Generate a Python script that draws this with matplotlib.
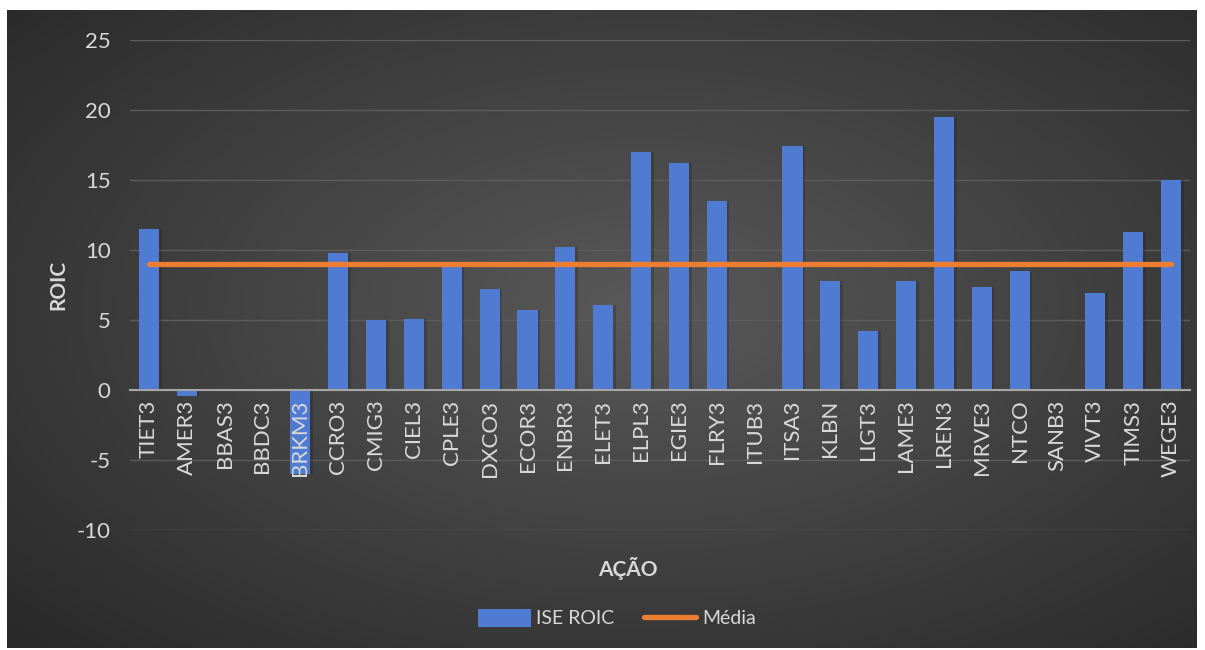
import numpy as np
import matplotlib
matplotlib.use("Agg")
import matplotlib.pyplot as plt
from matplotlib.patches import Patch
from matplotlib.lines import Line2D

plt.rcParams['font.family'] = ['Lato', 'DejaVu Sans']
plt.rcParams['axes.unicode_minus'] = False

acoes = ['TIET3', 'AMER3', 'BBAS3', 'BBDC3', 'BRKM3', 'CCRO3', 'CMIG3', 'CIEL3',
         'CPLE3', 'DXCO3', 'ECOR3', 'ENBR3', 'ELET3', 'ELPL3', 'EGIE3', 'FLRY3',
         'ITUB3', 'ITSA3', 'KLBN', 'LIGT3', 'LAME3', 'LREN3', 'MRVE3', 'NTCO',
         'SANB3', 'VIVT3', 'TIMS3', 'WEGE3']
roic = [11.5, -0.4, 0, 0, -6.0, 9.8, 5.0, 5.1,
        8.9, 7.2, 5.7, 10.2, 6.1, 17.0, 16.2, 13.5,
        0, 17.4, 7.8, 4.2, 7.8, 19.5, 7.35, 8.5,
        0, 6.9, 11.3, 15.0]
media = [9.0] * len(acoes)

TXT = '#d9d9d9'
AZUL = '#4f7bd2'
LARANJA = '#ed7d31'

fig = plt.figure(figsize=(12.05, 6.5), dpi=100)
fig.patch.set_facecolor('white')

# fundo escuro com gradiente radial
bg = fig.add_axes([7 / 1205, 2 / 650, 1190 / 1205, 638 / 650], zorder=-10)
yy, xx = np.mgrid[0:320, 0:600]
cx, cy = 320, 150
r = np.sqrt(((xx - cx) / 600) ** 2 + ((yy - cy) / 330) ** 2)
v = np.clip(0.35 - 0.26 * r, 0.15, 0.36)
bg.imshow(np.dstack([v, v, v]), aspect='auto', extent=[0, 1, 0, 1], interpolation='bilinear')
bg.set_axis_off()

ax = fig.add_axes([130 / 1205, 120 / 650, 1060 / 1205, 490 / 650])
ax.patch.set_alpha(0)

x = np.arange(len(acoes))
ax.bar(x + 0.07, roic, width=0.53, color='#1a1a1a', alpha=0.25, zorder=2)
ax.bar(x, roic, width=0.53, color=AZUL, zorder=3)
ax.plot(x, media, color=LARANJA, lw=3.8, solid_capstyle='round', zorder=4)

ax.set_xlim(-0.5, len(acoes) - 0.5)
ax.set_ylim(-10, 25)
ax.set_yticks(np.arange(-10, 26, 5))
ax.grid(axis='y', color='#5c5c5c', lw=1)
ax.set_axisbelow(True)
ax.xaxis.set_zorder(6)

for s in ['top', 'right', 'left']:
    ax.spines[s].set_visible(False)
ax.spines['bottom'].set_position(('data', 0))
ax.spines['bottom'].set_color('#a6a6a6')
ax.spines['bottom'].set_linewidth(1.5)
ax.spines['bottom'].set_zorder(5)

ax.set_xticks(x)
ax.set_xticklabels(acoes, rotation=90, va='top', ha='center')
ax.tick_params(axis='x', length=0, pad=7, colors=TXT, labelsize=16)
ax.tick_params(axis='y', length=0, pad=14, colors=TXT, labelsize=16)

ax.set_ylabel('ROIC', color=TXT, fontsize=15, fontweight='bold', labelpad=6)
fig.text(628 / 1205, 1 - 568 / 650, 'AÇÃO', color=TXT, fontsize=15,
         fontweight='bold', ha='center', va='center')

handles = [Patch(facecolor=AZUL, edgecolor='none'),
           Line2D([0], [0], color=LARANJA, lw=3.8, solid_capstyle='round')]
fig.legend(handles, ['ISE ROIC', 'Média'], loc='center', ncol=2,
           bbox_to_anchor=(617 / 1205, 1 - 618 / 650), frameon=False,
           labelcolor=TXT, fontsize=14, handlelength=2.7, handleheight=1.1,
           handletextpad=0.3, columnspacing=1.5)

fig.savefig('out.png', dpi=100)
